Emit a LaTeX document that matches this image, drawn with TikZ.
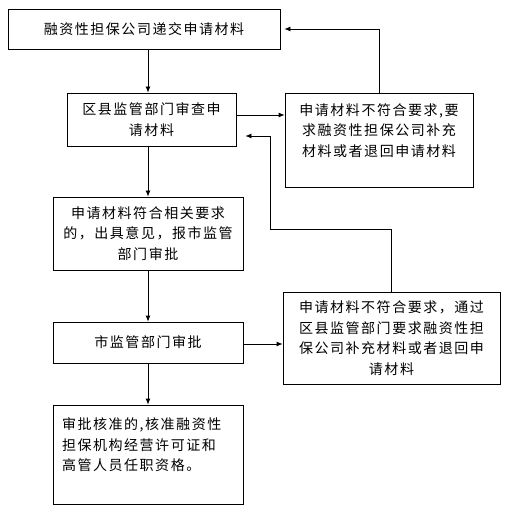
\documentclass[tikz,border=0pt]{standalone}
\usepackage{fontspec}
\newfontfamily\cjk[LetterSpace=11]{Noto Sans CJK SC}
\usetikzlibrary{arrows.meta}

\begin{document}
\begin{tikzpicture}[x=1pt, y=-1pt,
	kuang/.style={draw, line width=0.8pt, inner sep=0pt, font=\cjk\fontsize{14}{20.5}\selectfont},
	jiantou/.style={-{Latex[length=6pt,width=5pt]}, line width=0.8pt}]
	\useasboundingbox (0,0) rectangle (513,518);
	
	% 1. 左侧主流程的方框
	\node [kuang, minimum width=272pt, minimum height=40pt] (tj) at (144,29) {融资性担保公司递交申请材料};
	\node [kuang, minimum width=169pt, minimum height=53pt, align=center] (sc) at (151.5,119.5) {区县监管部门审查申\\请材料};
	\node [kuang, minimum width=190pt, minimum height=73pt, align=center] (fh) at (148,233.5) {申请材料符合相关要求\\的，出具意见，报市监管\\部门审批};
	\node [kuang, minimum width=190pt, minimum height=41pt] (sp) at (148,342.5) {市监管部门审批};
	\node [kuang, minimum width=190pt, minimum height=99pt, text width=172pt, align=left] (hz) at (148,454.5) {审批核准的,核准融资性\\担保机构经营许可证和\\高管人员任职资格。\\~};
	
	% 2. 右侧退回的方框
	\node [kuang, minimum width=188pt, minimum height=94pt, align=center] (bh1) at (379,140) {申请材料不符合要求,要\\求融资性担保公司补充\\材料或者退回申请材料\\~};
	\node [kuang, minimum width=217pt, minimum height=92pt, align=center] (bh2) at (391.5,338) {申请材料不符合要求，通过\\区县监管部门要求融资性担\\保公司补充材料或者退回申\\请材料};
	
	% 3. 连线用的辅助点
	\coordinate (zhu) at (148,0);
	\coordinate (g1) at (270,229);
	\coordinate (g2) at (270,136);
	
	% 4. 向下的箭头
	\draw [jiantou] (tj.south -| zhu) -- (sc.north -| zhu);
	\draw [jiantou] (sc.south -| zhu) -- (fh.north -| zhu);
	\draw [jiantou] (fh.south -| zhu) -- (sp.north -| zhu);
	\draw [jiantou] (sp.south -| zhu) -- (hz.north -| zhu);
	
	% 5. 向右和退回的箭头
	\draw [jiantou] ([yshift=4.5pt]sc.east) -- ([yshift=4.5pt]sc.east -| bh1.west);
	\draw [jiantou, shorten >=4pt] (bh1.north) |- (tj.east);
	\draw [jiantou] ([yshift=-1.5pt]sp.east) -- ([yshift=-1.5pt]sp.east -| bh2.west);
	\draw [jiantou, shorten >=9pt] (bh2.north) |- (g1) -- (g2) -- (g2 -| sc.east);
\end{tikzpicture}
\end{document}
